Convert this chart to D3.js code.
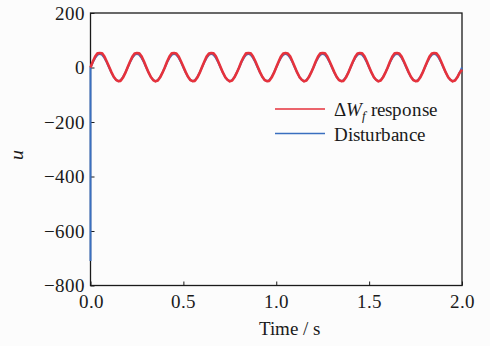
<!DOCTYPE html>
<html>
<head>
<meta charset="utf-8">
<script src="https://cdn.jsdelivr.net/npm/d3@7"></script>
<style>
  @font-face { font-family: "ChartSerif"; font-style: normal;
    src: local("Liberation Serif"), local("LiberationSerif"), local("Liberation Serif Regular"); }
  @font-face { font-family: "ChartSerif"; font-style: italic;
    src: local("Liberation Serif Italic"), local("LiberationSerif-Italic"); }
</style>
</head>
<body style="margin:0; background:#fcfcfc">
<svg id="chart" width="490" height="346" style="display:block"></svg>
<script>
// x-axis ticks and y-axis ticks
const xTicks = [0, 0.5, 1.0, 1.5, 2.0];
const yTicks = [200, 0, -200, -400, -600, -800];

// sample step in seconds (161 samples over 0..2 s)
const timeStep = 0.0125;

// disturbance jumps in from this value at t = 0
const disturbanceStart = -710;

// disturbance
const disturbance = [
    0, 19, 35, 46, 50, 46, 35, 19, 0, -19, -35, -46, -50, -46, -35, -19,
    0, 19, 35, 46, 50, 46, 35, 19, 0, -19, -35, -46, -50, -46, -35, -19,
    0, 19, 35, 46, 50, 46, 35, 19, 0, -19, -35, -46, -50, -46, -35, -19,
    0, 19, 35, 46, 50, 46, 35, 19, 0, -19, -35, -46, -50, -46, -35, -19,
    0, 19, 35, 46, 50, 46, 35, 19, 0, -19, -35, -46, -50, -46, -35, -19,
    0, 19, 35, 46, 50, 46, 35, 19, 0, -19, -35, -46, -50, -46, -35, -19,
    0, 19, 35, 46, 50, 46, 35, 19, 0, -19, -35, -46, -50, -46, -35, -19,
    0, 19, 35, 46, 50, 46, 35, 19, 0, -19, -35, -46, -50, -46, -35, -19,
    0, 19, 35, 46, 50, 46, 35, 19, 0, -19, -35, -46, -50, -46, -35, -19,
    0, 19, 35, 46, 50, 46, 35, 19, 0, -19, -35, -46, -50, -46, -35, -19,
    0
];

// delta Wf response
const response = [
    0, 22, 40, 52, 53, 52, 40, 22, 3, -17, -34, -45, -50, -49, -37, -20,
    1, 21, 39, 51, 53, 52, 41, 23, 2, -18, -35, -46, -51, -48, -36, -19,
    0, 22, 40, 52, 53, 51, 40, 22, 3, -17, -34, -46, -50, -49, -37, -20,
    1, 21, 40, 51, 53, 52, 41, 22, 2, -18, -35, -45, -51, -48, -36, -19,
    0, 22, 39, 52, 53, 52, 40, 23, 3, -17, -34, -46, -50, -49, -37, -20,
    1, 21, 40, 51, 53, 51, 41, 22, 2, -18, -35, -45, -51, -48, -36, -19,
    0, 22, 40, 52, 53, 52, 40, 22, 3, -17, -34, -46, -50, -49, -37, -20,
    1, 21, 39, 51, 53, 52, 41, 23, 2, -18, -35, -45, -51, -48, -36, -19,
    0, 22, 40, 52, 53, 51, 40, 22, 3, -17, -34, -46, -50, -49, -37, -20,
    1, 21, 40, 51, 53, 52, 41, 22, 2, -18, -35, -45, -51, -48, -36, -19,
    -8
];

const colorResponse = "#e6323c";
const colorDisturbance = "#3a6fbf";
const fontName = "ChartSerif, 'Liberation Serif', Tinos, 'Times New Roman', serif";
const ink = "#1a1a1a";

const svg = d3.select("#chart");

// plot box
const margin = {top: 13, right: 28, bottom: 60.5, left: 90.5},
    width = 490 - margin.left - margin.right,
    height = 346 - margin.top - margin.bottom;

const g = svg.append("g")
    .attr("transform", "translate(" + margin.left + "," + margin.top + ")");

const xScale = d3.scaleLinear().domain([0, 2]).range([0, width]);
const yScale = d3.scaleLinear().domain([-800, 200]).range([height, 0]);

// frame first so the disturbance edge sits on top of it
g.append("rect")
    .attr("width", width)
    .attr("height", height)
    .attr("fill", "none")
    .attr("stroke", ink)
    .attr("stroke-width", 1.3);

// axes with inward ticks
const xAxis = g.append("g")
    .attr("transform", "translate(0," + height + ")")
    .call(d3.axisBottom(xScale).tickValues(xTicks).tickFormat(d3.format(".1f"))
        .tickSize(-4).tickPadding(9));

const yAxis = g.append("g")
    .call(d3.axisLeft(yScale).tickValues(yTicks).tickFormat(d3.format("d"))
        .tickSize(-4).tickPadding(6));

[xAxis, yAxis].forEach(ax => {
    ax.attr("font-family", null).attr("font-size", 19);
    ax.select(".domain").remove();
    ax.selectAll("line").attr("stroke", ink);
    ax.selectAll("text").attr("fill", ink);
});

const line = d3.line()
    .x(d => xScale(d[0]))
    .y(d => yScale(d[1]));

const distData = [[0, disturbanceStart]].concat(disturbance.map((v, i) => [i * timeStep, v]));
const respData = response.map((v, i) => [i * timeStep, v]);

// disturbance under, response on top
g.append("path")
    .datum(distData)
    .attr("fill", "none")
    .attr("stroke", colorDisturbance)
    .attr("stroke-width", 2)
    .attr("d", line);

g.append("path")
    .datum(respData)
    .attr("fill", "none")
    .attr("stroke", colorResponse)
    .attr("stroke-width", 2.6)
    .attr("stroke-linejoin", "round")
    .attr("d", line);

// axis titles
svg.append("text")
    .attr("x", 289)
    .attr("y", 335)
    .attr("text-anchor", "middle")
    .attr("fill", ink)
    .attr("font-size", 19)
    .text("Time / s");

svg.append("text")
    .attr("transform", "translate(23,155) rotate(-90)")
    .attr("text-anchor", "middle")
    .attr("fill", ink)
    .attr("font-size", 20)
    .attr("font-style", "italic")
    .text("u");

// legend
const legend = svg.append("g");
legend.append("line")
    .attr("x1", 275).attr("x2", 325).attr("y1", 109).attr("y2", 109)
    .attr("stroke", colorResponse).attr("stroke-width", 1.5);
legend.append("line")
    .attr("x1", 275).attr("x2", 325).attr("y1", 133.5).attr("y2", 133.5)
    .attr("stroke", colorDisturbance).attr("stroke-width", 1.5);

const t1 = legend.append("text")
    .attr("x", 334).attr("y", 116)
    .attr("fill", ink)
    .attr("font-size", 19);
t1.append("tspan").text("\u0394");
t1.append("tspan").attr("font-style", "italic").text("W");
t1.append("tspan").attr("font-style", "italic").attr("font-size", 13).attr("dy", 4).text("f");
t1.append("tspan").attr("dy", -4).text(" response");

legend.append("text")
    .attr("x", 334).attr("y", 140.5)
    .attr("fill", ink)
    .attr("font-size", 19)
    .text("Disturbance");

// serif face on every label
svg.selectAll("text").style("font-family", fontName, "important");
</script>
</body>
</html>
